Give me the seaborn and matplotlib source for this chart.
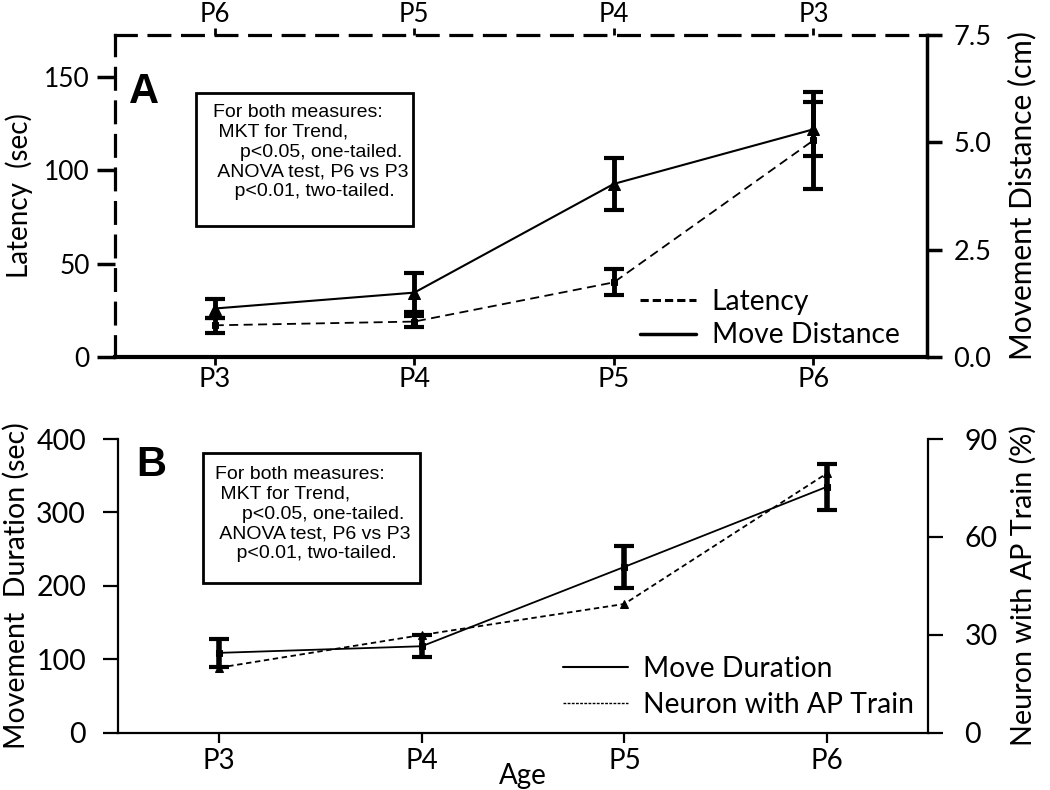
import numpy as np
import matplotlib
matplotlib.use("Agg")
import matplotlib.pyplot as plt
from matplotlib.lines import Line2D
from matplotlib.patches import Rectangle
import seaborn as sns

# age groups
ages = ["P3", "P4", "P5", "P6"]
top_ages = ["P6", "P5", "P4", "P3"]

# panel A
latency = [17, 19, 40, 116]            # sec
latency_err = [4, 3, 7, 26]
move_dist = [1.13, 1.5, 4.03, 5.3]     # cm
move_dist_err = [0.23, 0.45, 0.61, 0.63]

# panel B
move_dur = [109, 118, 226, 335]        # sec
move_dur_err = [19, 15, 29, 31]
ap_train = [20, 30, 39.5, 79.5]        # %

stats_text = ("For both measures:\n"
              " MKT for Trend,\n"
              "     p<0.05, one-tailed.\n"
              " ANOVA test, P6 vs P3\n"
              "    p<0.01, two-tailed.")

sns.set_style("ticks")
plt.rcParams['font.family'] = ['Lato', 'DejaVu Sans']
plt.rcParams['font.size'] = 19
for k in ['text.color', 'axes.labelcolor', 'xtick.color', 'ytick.color', 'axes.edgecolor']:
    plt.rcParams[k] = 'black'

x = np.arange(len(ages))
dash_spine = (0, (6.5, 4))

fig = plt.figure(figsize=(10.5, 7.9), dpi=100)

# ---------------- Panel A ----------------
axA = fig.add_axes([0.1095, 0.548, 0.7735, 0.408])
axA2 = axA.twinx()

sns.lineplot(x=x, y=latency, ax=axA, color='k', linestyle=(0, (5, 3)), lw=1.3,
             marker='s', markersize=5, markeredgecolor='k')
axA.errorbar(x, latency, yerr=latency_err, fmt='none', ecolor='k',
             elinewidth=3.5, capsize=7.5, capthick=3)
sns.lineplot(x=x, y=move_dist, ax=axA2, color='k', lw=1.5,
             marker='^', markersize=9, markeredgecolor='k')
axA2.errorbar(x, move_dist, yerr=move_dist_err, fmt='none', ecolor='k',
              elinewidth=3.5, capsize=7.5, capthick=3)

axA.set_xlim(-0.5, 3.57)
axA.set_ylim(0, 172.5)
axA2.set_ylim(0, 7.5)
axA.set_xticks(x)
axA.set_xticklabels(ages)
axA.set_yticks([0, 50, 100, 150])
axA2.set_yticks([0, 2.5, 5.0, 7.5])
axA2.set_yticklabels(["0.0", "2.5", "5.0", "7.5"])
axA.set_ylabel("Latency  (sec)", fontsize=20, labelpad=8)
axA2.set_ylabel("Movement Distance (cm)", fontsize=21.5, labelpad=12)

for a in (axA, axA2):
    for s in a.spines.values():
        s.set_visible(False)
for side in ('left', 'top'):
    axA.spines[side].set_visible(True)
    axA.spines[side].set_linestyle(dash_spine)
    axA.spines[side].set_linewidth(2.3)
axA.spines['bottom'].set_visible(True)
axA.spines['bottom'].set_linewidth(3)
axA2.spines['right'].set_visible(True)
axA2.spines['right'].set_linewidth(2.5)

axA.tick_params(axis='y', length=13, width=2.5, pad=5, labelsize=19)
axA.tick_params(axis='x', length=6, width=2, pad=1, labelsize=19.5)
axA2.tick_params(axis='y', length=11, width=2.5, pad=8, labelsize=19.5)

topA = axA.secondary_xaxis('top')
topA.set_xticks(x)
topA.set_xticklabels(top_ages)
topA.tick_params(axis='x', length=5, width=2, pad=0.5, labelsize=18.5)
for s in topA.spines.values():
    s.set_visible(False)

axA.text(0.017, 0.885, "A", transform=axA.transAxes, fontsize=30,
         fontweight='bold', family='Liberation Sans', va='top')
axA.add_patch(Rectangle((0.0998, 0.407), 0.2672, 0.413, transform=axA.transAxes,
                        fill=True, fc='white', ec='k', lw=2, zorder=3))
axA.text(0.1207, 0.785, stats_text, transform=axA.transAxes, fontsize=14,
         family='Liberation Sans', va='top', linespacing=1.21, zorder=4)

handlesA = [Line2D([], [], color='k', lw=2.2, linestyle=(0, (2.7, 1.3))),
            Line2D([], [], color='k', lw=2.5)]
axA2.legend(handlesA, ["Latency", "Move Distance"], loc='lower right',
            frameon=False, fontsize=20.3, handlelength=2.0, handletextpad=0.55,
            labelspacing=0.25, borderpad=0, borderaxespad=0,
            bbox_to_anchor=(0.966, 0.027))

# ---------------- Panel B ----------------
axB = fig.add_axes([0.1124, 0.0722, 0.7716, 0.3721])
axB2 = axB.twinx()

sns.lineplot(x=x, y=move_dur, ax=axB, color='k', lw=1.3,
             marker='s', markersize=5, markeredgecolor='k')
axB.errorbar(x, move_dur, yerr=move_dur_err, fmt='none', ecolor='k',
             elinewidth=4, capsize=7, capthick=3)
sns.lineplot(x=x, y=ap_train, ax=axB2, color='k', linestyle=(0, (3, 2)), lw=1.3,
             marker='^', markersize=6, markeredgecolor='k')

axB.set_xlim(-0.5, 3.5)
axB.set_ylim(0, 400)
axB2.set_ylim(0, 90)
axB.set_xticks(x)
axB.set_xticklabels(ages)
axB.set_yticks([0, 100, 200, 300, 400])
axB2.set_yticks([0, 30, 60, 90])
axB.set_xlabel("Age", fontsize=20, labelpad=-8)
axB.set_ylabel("Movement  Duration (sec)", fontsize=20.5, labelpad=5)
axB2.set_ylabel("Neuron with AP Train (%)", fontsize=20.7, labelpad=9)

for a in (axB, axB2):
    for s in a.spines.values():
        s.set_visible(False)
axB.spines['left'].set_visible(True)
axB.spines['bottom'].set_visible(True)
axB2.spines['right'].set_visible(True)
for s in (axB.spines['left'], axB.spines['bottom'], axB2.spines['right']):
    s.set_linewidth(1.6)

axB.tick_params(axis='y', length=11, width=1.6, pad=12, labelsize=20.5)
axB.tick_params(axis='x', length=7, width=1.6, pad=4, labelsize=20)
axB2.tick_params(axis='y', length=11, width=1.6, pad=15, labelsize=20.5)

axB.text(0.023, 0.98, "B", transform=axB.transAxes, fontsize=30,
         fontweight='bold', family='Liberation Sans', va='top')
axB.add_patch(Rectangle((0.105, 0.510), 0.268, 0.442, transform=axB.transAxes,
                        fill=True, fc='white', ec='k', lw=2, zorder=3))
axB.text(0.12, 0.908, stats_text, transform=axB.transAxes, fontsize=14,
         family='Liberation Sans', va='top', linespacing=1.21, zorder=4)

handlesB = [Line2D([], [], color='k', lw=1.5),
            Line2D([], [], color='k', lw=1, linestyle=(0, (2, 1)))]
axB2.legend(handlesB, ["Move Duration", "Neuron with AP Train"], loc='lower right',
            frameon=False, fontsize=20.3, handlelength=2.3, handletextpad=0.55,
            labelspacing=0.38, borderpad=0, borderaxespad=0,
            bbox_to_anchor=(0.9826, 0.05))

fig.savefig("out.png", dpi=100)
